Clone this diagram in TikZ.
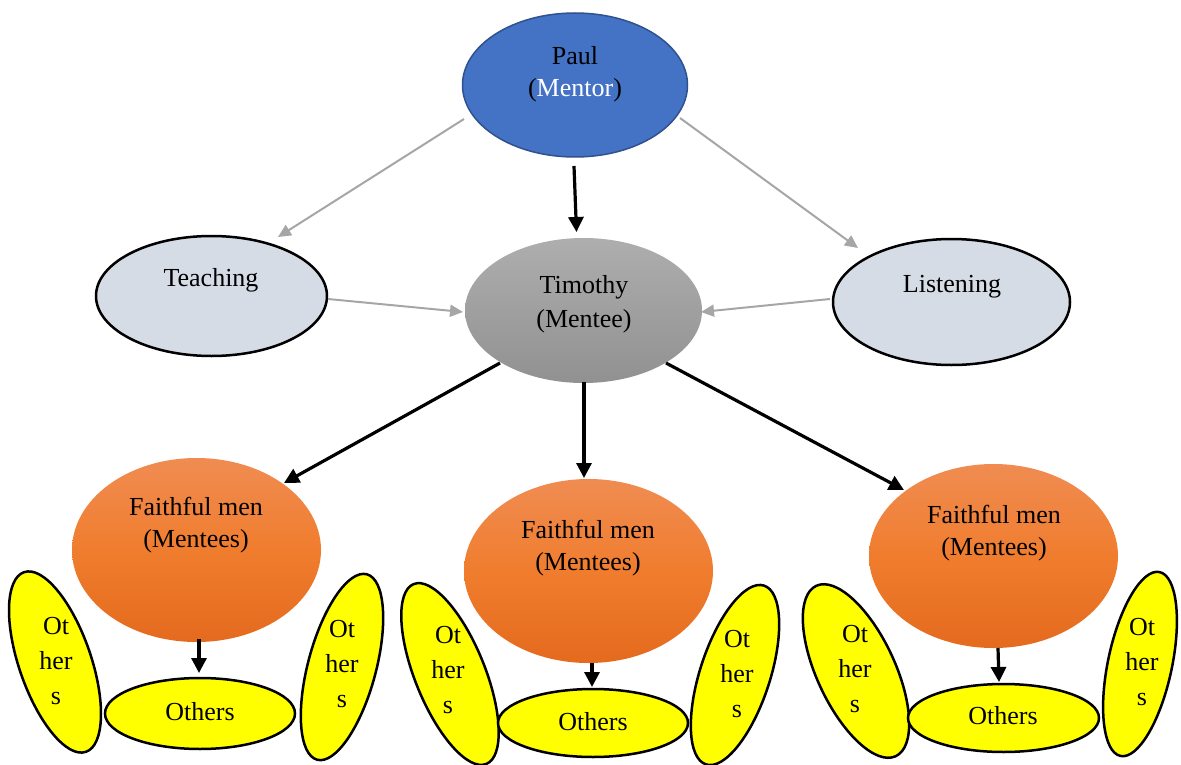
\documentclass[tikz,border=0pt]{standalone}
\usepackage{fontspec}
\setmainfont{Liberation Serif}
\usetikzlibrary{shapes.geometric,arrows.meta}
\definecolor{paulblue}{HTML}{4472C4}
\definecolor{paulborder}{HTML}{2F528F}
\definecolor{lightfill}{HTML}{D6DCE5}
\definecolor{arrowgray}{HTML}{A6A6A6}
\definecolor{yellowfill}{HTML}{FFFF00}
\definecolor{timtop}{RGB}{174,174,174}
\definecolor{timbot}{RGB}{145,145,145}
\definecolor{ortop}{RGB}{240,140,82}
\definecolor{ormid}{RGB}{240,125,46}
\definecolor{orbot}{RGB}{228,106,30}
\newcommand{\mystack}[1]{\begin{tabular}[t]{@{}c@{}}#1\end{tabular}}
\begin{document}
\begin{tikzpicture}[x=1pt,y=-1pt,
  every node/.style={font=\fontsize{26}{32}\selectfont},
  oval/.style={ellipse, inner sep=0pt},
  lbl/.style={anchor=base, inner sep=0pt},
  vlbl/.style={lbl, font=\fontsize{26}{35}\selectfont},
  lightoval/.style={oval, fill=lightfill, draw=black, line width=2.5pt},
  fmoval/.style={oval, minimum width=249pt, minimum height=184pt,
    top color=ortop, bottom color=orbot, middle color=ormid},
  yeloval/.style={oval, draw=black, line width=2.5pt, fill=yellowfill},
  blk/.style={-{Triangle[length=15pt,width=15pt]}, line width=3.2pt, black},
  gry/.style={-{Triangle[length=13pt,width=12pt]}, line width=2pt, arrowgray},
]
\useasboundingbox (0,0) rectangle (1181,765);

% top level
\node[oval, fill=paulblue, draw=paulborder, line width=1.5pt,
      minimum width=225pt, minimum height=144pt] (paul) at (575,85) {};
\node[lbl] (paulT) at (575,65) {\mystack{Paul\\(\textcolor{white}{Mentor})}};

\node[lightoval, minimum width=231pt, minimum height=120pt] (teach) at (211.5,296) {};
\node[lbl] (teachT) at (211,286) {Teaching};

\node[lightoval, minimum width=237pt, minimum height=126pt] (listen) at (951.5,302) {};
\node[lbl] (listenT) at (952,292) {Listening};

\node[oval, top color=timtop, bottom color=timbot,
      minimum width=237pt, minimum height=145pt] (tim) at (583.5,310.5) {};
\node[lbl, font=\fontsize{26}{34}\selectfont] (timT) at (584,293) {\mystack{Timothy\\(Mentee)}};

% faithful men
\node[fmoval] (f1) at (196.5,550) {};
\node[lbl] (f1T) at (196,515) {\mystack{Faithful men\\(Mentees)}};
\node[fmoval] (f2) at (588.5,571) {};
\node[lbl] (f2T) at (588,538) {\mystack{Faithful men\\(Mentees)}};
\node[fmoval] (f3) at (993.5,556) {};
\node[lbl] (f3T) at (994,523) {\mystack{Faithful men\\(Mentees)}};

% group 1
\node[yeloval, minimum width=72pt, minimum height=190pt, rotate=19] (l1) at (55,662) {};
\node[vlbl] (l1T) at (56,634) {\mystack{Ot\\her\\s}};
\node[yeloval, minimum width=190pt, minimum height=71pt] (o1) at (200,713.5) {};
\node[lbl] (o1T) at (200,720) {Others};
\node[yeloval, minimum width=68pt, minimum height=192pt, rotate=-15] (r1) at (342,667) {};
\node[vlbl] (r1T) at (342,637) {\mystack{Ot\\her\\s}};

% group 2
\node[yeloval, minimum width=70pt, minimum height=194pt, rotate=22] (l2) at (450,674) {};
\node[vlbl] (l2T) at (448,643) {\mystack{Ot\\her\\s}};
\node[yeloval, minimum width=190pt, minimum height=68pt] (o2) at (593,723) {};
\node[lbl] (o2T) at (593,730) {Others};
\node[yeloval, minimum width=70pt, minimum height=188pt, rotate=-18] (r2) at (735,675) {};
\node[vlbl] (r2T) at (737,647) {\mystack{Ot\\her\\s}};

% group 3
\node[yeloval, minimum width=78pt, minimum height=188pt, rotate=25] (l3) at (856,671) {};
\node[vlbl] (l3T) at (855,642) {\mystack{Ot\\her\\s}};
\node[yeloval, minimum width=191pt, minimum height=68pt] (o3) at (1003.5,718) {};
\node[lbl] (o3T) at (1003,724) {Others};
\node[yeloval, minimum width=64pt, minimum height=188pt, rotate=-12] (r3) at (1140,664) {};
\node[vlbl] (r3T) at (1142,635) {\mystack{Ot\\her\\s}};

% connectors
\draw[gry] ([shift={(-111,34)}]paul.center) -- ([shift={(66.5,-59)}]teach.center);
\draw[gry] ([shift={(105,33)}]paul.center) -- ([shift={(-93.5,-54)}]listen.center);
\draw[blk] ([shift={(-1,81)}]paul.center) -- ([shift={(-7,-78.5)}]tim.center);
\draw[gry] ([shift={(116.5,3)}]teach.center) -- ([shift={(-120.5,1.5)}]tim.center);
\draw[gry] ([shift={(-121.5,-3)}]listen.center) -- ([shift={(117.5,1.5)}]tim.center);
\draw[blk] ([shift={(-83.5,52.5)}]tim.center) -- ([shift={(87.5,-67)}]f1.center);
\draw[blk] ([shift={(0.5,71.5)}]tim.center) -- ([shift={(-4.5,-93)}]f2.center);
\draw[blk] ([shift={(82.5,52.5)}]tim.center) -- ([shift={(-89.5,-66)}]f3.center);
\draw[blk] ([shift={(2.5,89)}]f1.center) -- ([shift={(-1,-40.5)}]o1.center);
\draw[blk] ([shift={(3.5,92)}]f2.center) -- ([shift={(-1,-36)}]o2.center);
\draw[blk] ([shift={(4.5,92)}]f3.center) -- ([shift={(-4.5,-36)}]o3.center);
\end{tikzpicture}
\end{document}
